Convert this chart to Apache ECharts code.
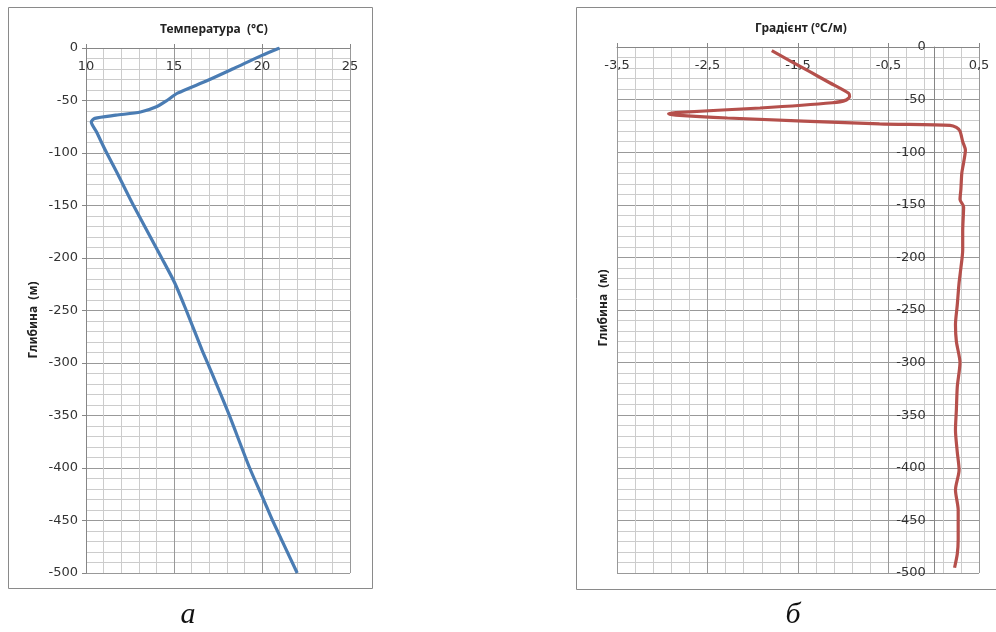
<!DOCTYPE html>
<html>
<head>
<meta charset="utf-8">
<script src="https://cdn.jsdelivr.net/npm/echarts@6/dist/echarts.min.js"></script>
<style>
html,body{margin:0;padding:0;background:#fff;}
#chart{width:996px;height:632px;}
</style>
</head>
<body>
<div id="chart"></div>
<script>
// ---- Data ----
const tempTitle = 'Температура  (°С)';
const gradTitle = 'Градієнт (°С/м)';
const depthName = 'Глибина  (м)';
const panelLabels = ['а', 'б'];

// Panel a: temperature vs depth
const tempDepth  = [0, -7, -19.5, -31, -43, -50, -56, -61, -64, -67, -70.5, -80, -97.4, -120, -150, -200, -224, -250, -288, -303.6, -348, -400, -430.5, -450, -500];
const tempValues = [21.0, 20.0, 18.4, 16.9, 15.2, 14.6, 14.0, 13.1, 11.7, 10.5, 10.3, 10.6, 11.1, 11.8, 12.7, 14.3, 15.05, 15.7, 16.6, 17.0, 18.1, 19.3, 20.1, 20.6, 22.0];

// Panel b: gradient vs depth
const gradDepth  = [-3.5, -23.5, -34, -44, -47, -50.5, -53, -58, -62.3, -63.5, -64.8, -67.5, -73, -74.5, -76.5, -80, -90, -98, -110, -120, -135, -145, -152, -175, -193, -210, -224, -245, -264, -280, -300, -323, -345, -364, -385, -402, -421, -440, -468, -482, -495];
const gradValues = [-1.79, -1.37, -1.15, -0.94, -0.93, -0.97, -1.12, -1.92, -2.85, -2.93, -2.85, -2.28, -0.60, 0.18, 0.25, 0.29, 0.32, 0.35, 0.33, 0.31, 0.30, 0.29, 0.33, 0.32, 0.32, 0.30, 0.28, 0.26, 0.24, 0.25, 0.29, 0.26, 0.25, 0.24, 0.26, 0.28, 0.24, 0.27, 0.27, 0.26, 0.23];

// Axis ranges / ticks
const tempAxis = {min: 10, max: 25, interval: 5};
const gradAxis = {min: -3.5, max: 0.5, interval: 1};
const depthAxis = {min: -500, max: 0, interval: 50};

// ---- Build ----
const tempData = tempDepth.map((d, i) => [tempValues[i], d]);
const gradData = gradDepth.map((d, i) => [gradValues[i], d]);

const labelFont = {fontFamily: 'DejaVu Sans', fontSize: 13, color: '#333'};
const axisColor = '#868686';
const majorGrid = '#999999';
const minorGrid = '#cccccc';

function xAxisCfg(grid, range, fmt) {
  return {
    type: 'value', gridIndex: grid, position: 'top',
    min: range.min, max: range.max, interval: range.interval,
    axisLine: {show: true, onZero: false, lineStyle: {color: axisColor, width: 1}},
    axisTick: {show: true, inside: false, length: 4, lineStyle: {color: axisColor}},
    minorTick: {show: false, splitNumber: 5},
    axisLabel: Object.assign({inside: true, margin: 12, formatter: fmt}, labelFont),
    splitLine: {show: true, lineStyle: {color: majorGrid, width: 1}},
    minorSplitLine: {show: true, lineStyle: {color: minorGrid, width: 1}}
  };
}
function yAxisCfg(grid, offset) {
  return {
    type: 'value', gridIndex: grid, position: 'left', offset: offset,
    min: depthAxis.min, max: depthAxis.max, interval: depthAxis.interval,
    axisLine: {show: true, onZero: false, lineStyle: {color: axisColor, width: 1}},
    axisTick: {show: true, length: 4, lineStyle: {color: axisColor}},
    minorTick: {show: false, splitNumber: 5},
    axisLabel: Object.assign({margin: 8}, labelFont),
    splitLine: {show: true, lineStyle: {color: majorGrid, width: 1}},
    minorSplitLine: {show: true, lineStyle: {color: minorGrid, width: 1}}
  };
}

const titleStyle = {fontFamily: 'Noto Sans', fontSize: 12, fontWeight: 'bold', color: '#222'};

// right grid: width 362 for 4 units; zero sits 3.5 units from the left edge
const rightGridLeft = 617, rightGridWidth = 362;
const zeroOffset = -(0 - gradAxis.min) / (gradAxis.max - gradAxis.min) * rightGridWidth;

const option = {
  animation: false,
  backgroundColor: '#ffffff',
  title: [
    {text: tempTitle, left: 209, top: 19, textAlign: 'center', textStyle: titleStyle},
    {text: gradTitle, left: 796, top: 18, textAlign: 'center', textStyle: titleStyle}
  ],
  grid: [
    {left: 86, top: 48, width: 264, height: 525},
    {left: rightGridLeft, top: 47, width: rightGridWidth, height: 526}
  ],
  xAxis: [
    xAxisCfg(0, tempAxis, v => String(v)),
    xAxisCfg(1, gradAxis, v => String(v).replace('.', ','))
  ],
  yAxis: [yAxisCfg(0, 0), yAxisCfg(1, zeroOffset)],
  series: [
    {type: 'line', xAxisIndex: 0, yAxisIndex: 0, data: tempData, smooth: 0.25,
     symbol: 'none', lineStyle: {color: '#4a7cb3', width: 3.2}},
    {type: 'line', xAxisIndex: 1, yAxisIndex: 1, data: gradData, smooth: 0.25,
     symbol: 'none', lineStyle: {color: '#b5504c', width: 3.2}}
  ],
  graphic: [
    {type: 'rect', shape: {x: 8.5, y: 7.5, width: 364, height: 581}, style: {fill: 'none', stroke: '#8a8a8a', lineWidth: 1}, z: -1},
    {type: 'rect', shape: {x: 576.5, y: 7.5, width: 440, height: 582}, style: {fill: 'none', stroke: '#8a8a8a', lineWidth: 1}, z: -1},
    {type: 'text', x: 34, y: 320, rotation: Math.PI / 2,
     style: {text: depthName, fill: '#222', font: 'bold 12px "Noto Sans"', textAlign: 'center', textVerticalAlign: 'middle'}},
    {type: 'text', x: 604, y: 308, rotation: Math.PI / 2,
     style: {text: depthName, fill: '#222', font: 'bold 12px "Noto Sans"', textAlign: 'center', textVerticalAlign: 'middle'}},
    {type: 'text', x: 188, y: 630,
     style: {text: panelLabels[0], fill: '#111', font: 'italic 30px "Liberation Serif"', textAlign: 'center', textVerticalAlign: 'bottom'}},
    {type: 'text', x: 793, y: 630,
     style: {text: panelLabels[1], fill: '#111', font: 'italic 30px "Liberation Serif"', textAlign: 'center', textVerticalAlign: 'bottom'}}
  ]
};

const chart = echarts.init(document.getElementById('chart'), null, {renderer: 'canvas'});
chart.setOption(option);
</script>
</body>
</html>
